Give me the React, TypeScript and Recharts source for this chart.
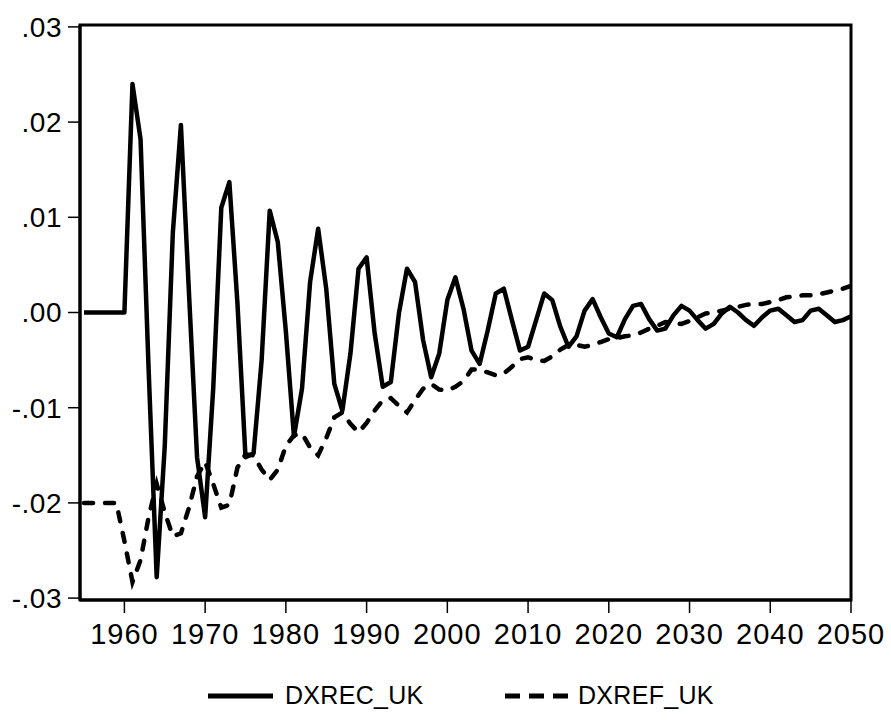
import React from "react";
import { LineChart, Line, XAxis, YAxis, ReferenceArea, Legend } from "recharts";

const YEARS = [
  1955, 1956, 1957, 1958, 1959, 1960,
  1961, 1962, 1963, 1964, 1965, 1966, 1967, 1968, 1969, 1970,
  1971, 1972, 1973, 1974, 1975, 1976, 1977, 1978, 1979, 1980,
  1981, 1982, 1983, 1984, 1985, 1986, 1987, 1988, 1989, 1990,
  1991, 1992, 1993, 1994, 1995, 1996, 1997, 1998, 1999, 2000,
  2001, 2002, 2003, 2004, 2005, 2006, 2007, 2008, 2009, 2010,
  2011, 2012, 2013, 2014, 2015, 2016, 2017, 2018, 2019, 2020,
  2021, 2022, 2023, 2024, 2025, 2026, 2027, 2028, 2029, 2030,
  2031, 2032, 2033, 2034, 2035, 2036, 2037, 2038, 2039, 2040,
  2041, 2042, 2043, 2044, 2045, 2046, 2047, 2048, 2049, 2050,
];

const DXREC_UK = [
  0, 0, 0, 0, 0, 0,
  0.024, 0.0182, -0.006, -0.0278, -0.014, 0.0084, 0.0197, 0.002, -0.0152, -0.0215,
  -0.008, 0.011, 0.0137, 0.001, -0.0152, -0.0148, -0.005, 0.0107, 0.0074, -0.002,
  -0.013, -0.008, 0.0032, 0.0088, 0.0025, -0.0075, -0.0103, -0.0043, 0.0046, 0.0058,
  -0.0022, -0.0078, -0.0073, -0.0001, 0.0046, 0.0032, -0.0029, -0.0068, -0.0043, 0.0013,
  0.0037, 0.0004, -0.004, -0.0054, -0.0019, 0.002, 0.0025, -0.0008, -0.004, -0.0036,
  -0.0008, 0.002, 0.0013, -0.0015, -0.0036, -0.0025, 0.0002, 0.0014, -0.0005, -0.0022,
  -0.0026, -0.0007, 0.0007, 0.0009, -0.0007, -0.0019, -0.0017, -0.0003, 0.0007, 0.0002,
  -0.0008, -0.0017, -0.0012, -0.0001, 0.0006, 0.0, -0.0008, -0.0014, -0.0005, 0.0002,
  0.0004, -0.0003, -0.001, -0.0008, 0.0002, 0.0004, -0.0003, -0.001, -0.0008, -0.0004,
];

const DXREF_UK = [
  -0.02, -0.02, -0.02, -0.02, -0.02, -0.024,
  -0.0283, -0.026, -0.0215, -0.018, -0.021, -0.0235, -0.0232, -0.0205, -0.0172, -0.0157,
  -0.018, -0.0205, -0.0202, -0.0163, -0.0149, -0.015, -0.0165, -0.0176, -0.0165, -0.014,
  -0.0129, -0.0127, -0.0142, -0.015, -0.0132, -0.011, -0.0105, -0.0117, -0.0126, -0.0116,
  -0.0103, -0.0092, -0.009, -0.0098, -0.0105, -0.0092, -0.008, -0.0075, -0.0081, -0.0082,
  -0.0078, -0.0072, -0.006, -0.006, -0.0063, -0.0066, -0.0064, -0.0057, -0.0049, -0.0047,
  -0.005, -0.0051, -0.0046, -0.0039, -0.0034, -0.0034, -0.0036, -0.0034, -0.0031, -0.0028,
  -0.0027, -0.0025, -0.0024, -0.0021, -0.0017, -0.0014, -0.001, -0.0011, -0.0012, -0.0009,
  -0.0005, -0.0001, 0.0, 0.0002, 0.0004, 0.0006, 0.0008, 0.0009, 0.0009, 0.0011,
  0.0013, 0.0016, 0.0017, 0.0018, 0.0018, 0.0019, 0.0021, 0.0023, 0.0025, 0.0028,
];

const X_TICKS = [1960, 1970, 1980, 1990, 2000, 2010, 2020, 2030, 2040, 2050];
const Y_TICKS = [-0.03, -0.02, -0.01, 0, 0.01, 0.02, 0.03];
const Y_TICK_LABELS = ["-.03", "-.02", "-.01", ".00", ".01", ".02", ".03"];
const SERIES_NAMES = ["DXREC_UK", "DXREF_UK"];

const data = YEARS.map((year, i) => ({
  year,
  DXREC_UK: DXREC_UK[i],
  DXREF_UK: DXREF_UK[i],
}));

const FONT = "'Liberation Sans', Arial, Helvetica, sans-serif";
const X_MIN = 1954.5;
const X_MAX = 2050;
const Y_MIN = -0.0302;
const Y_MAX = 0.0302;

const yLabel = (v: number) => {
  const idx = Y_TICKS.findIndex((t) => Math.abs(t - v) < 1e-9);
  return idx >= 0 ? Y_TICK_LABELS[idx] : String(v);
};

const LegendContent = () => (
  <div
    style={{
      display: "flex",
      justifyContent: "flex-start",
      alignItems: "center",
      fontFamily: FONT,
      fontSize: 25,
      color: "#000",
      letterSpacing: 0.3,
      paddingLeft: 208,
    }}
  >
    <svg width={65} height={10} style={{ marginRight: 12 }}>
      <line x1={0} y1={5} x2={65} y2={5} stroke="#000" strokeWidth={5} />
    </svg>
    <span style={{ width: 138, whiteSpace: "nowrap", marginRight: 82 }}>{SERIES_NAMES[0]}</span>
    <svg width={63} height={10} style={{ marginRight: 10 }}>
      <line
        x1={0}
        y1={5}
        x2={63}
        y2={5}
        stroke="#000"
        strokeWidth={5}
        strokeDasharray="15 9"
      />
    </svg>
    <span style={{ whiteSpace: "nowrap" }}>{SERIES_NAMES[1]}</span>
  </div>
);

export default function App() {
  return (
    <div style={{ position: "absolute", left: 0, top: 0, background: "#fff" }}>
      <LineChart
        width={891}
        height={726}
        data={data}
        margin={{ top: 25, right: 40, left: 0, bottom: 76 }}
      >
        <XAxis
          dataKey="year"
          type="number"
          domain={[X_MIN, X_MAX]}
          ticks={X_TICKS}
          allowDataOverflow
          height={50}
          tickSize={13}
          tickMargin={10}
          axisLine={{ stroke: "#000", strokeWidth: 3 }}
          tickLine={{ stroke: "#000", strokeWidth: 1.5 }}
          tick={{ fill: "#000", fontSize: 29, fontFamily: FONT, letterSpacing: 1 }}
          interval={0}
        />
        <YAxis
          type="number"
          domain={[Y_MIN, Y_MAX]}
          ticks={Y_TICKS}
          allowDataOverflow
          width={80}
          tickSize={12}
          tickMargin={6}
          tickFormatter={yLabel}
          axisLine={{ stroke: "#000", strokeWidth: 3 }}
          tickLine={{ stroke: "#000", strokeWidth: 1.5 }}
          tick={{ fill: "#000", fontSize: 28, fontFamily: FONT, letterSpacing: 0.5 }}
          interval={0}
        />
        <ReferenceArea
          x1={X_MIN}
          x2={X_MAX}
          y1={Y_MIN}
          y2={Y_MAX}
          fill="none"
          stroke="#000"
          strokeWidth={3}
          ifOverflow="visible"
        />
        <Line
          type="linear"
          dataKey="DXREF_UK"
          stroke="#000"
          strokeWidth={4.5}
          strokeDasharray="9 12"
          strokeLinecap="round"
          dot={false}
          activeDot={false}
          isAnimationActive={false}
        />
        <Line
          type="linear"
          dataKey="DXREC_UK"
          stroke="#000"
          strokeWidth={4.5}
          strokeLinejoin="round"
          dot={false}
          activeDot={false}
          isAnimationActive={false}
        />
        <Legend
          layout="horizontal"
          verticalAlign="middle"
          align="center"
          wrapperStyle={{ top: 681, left: 0, width: 891 }}
          content={<LegendContent />}
        />
      </LineChart>
    </div>
  );
}
